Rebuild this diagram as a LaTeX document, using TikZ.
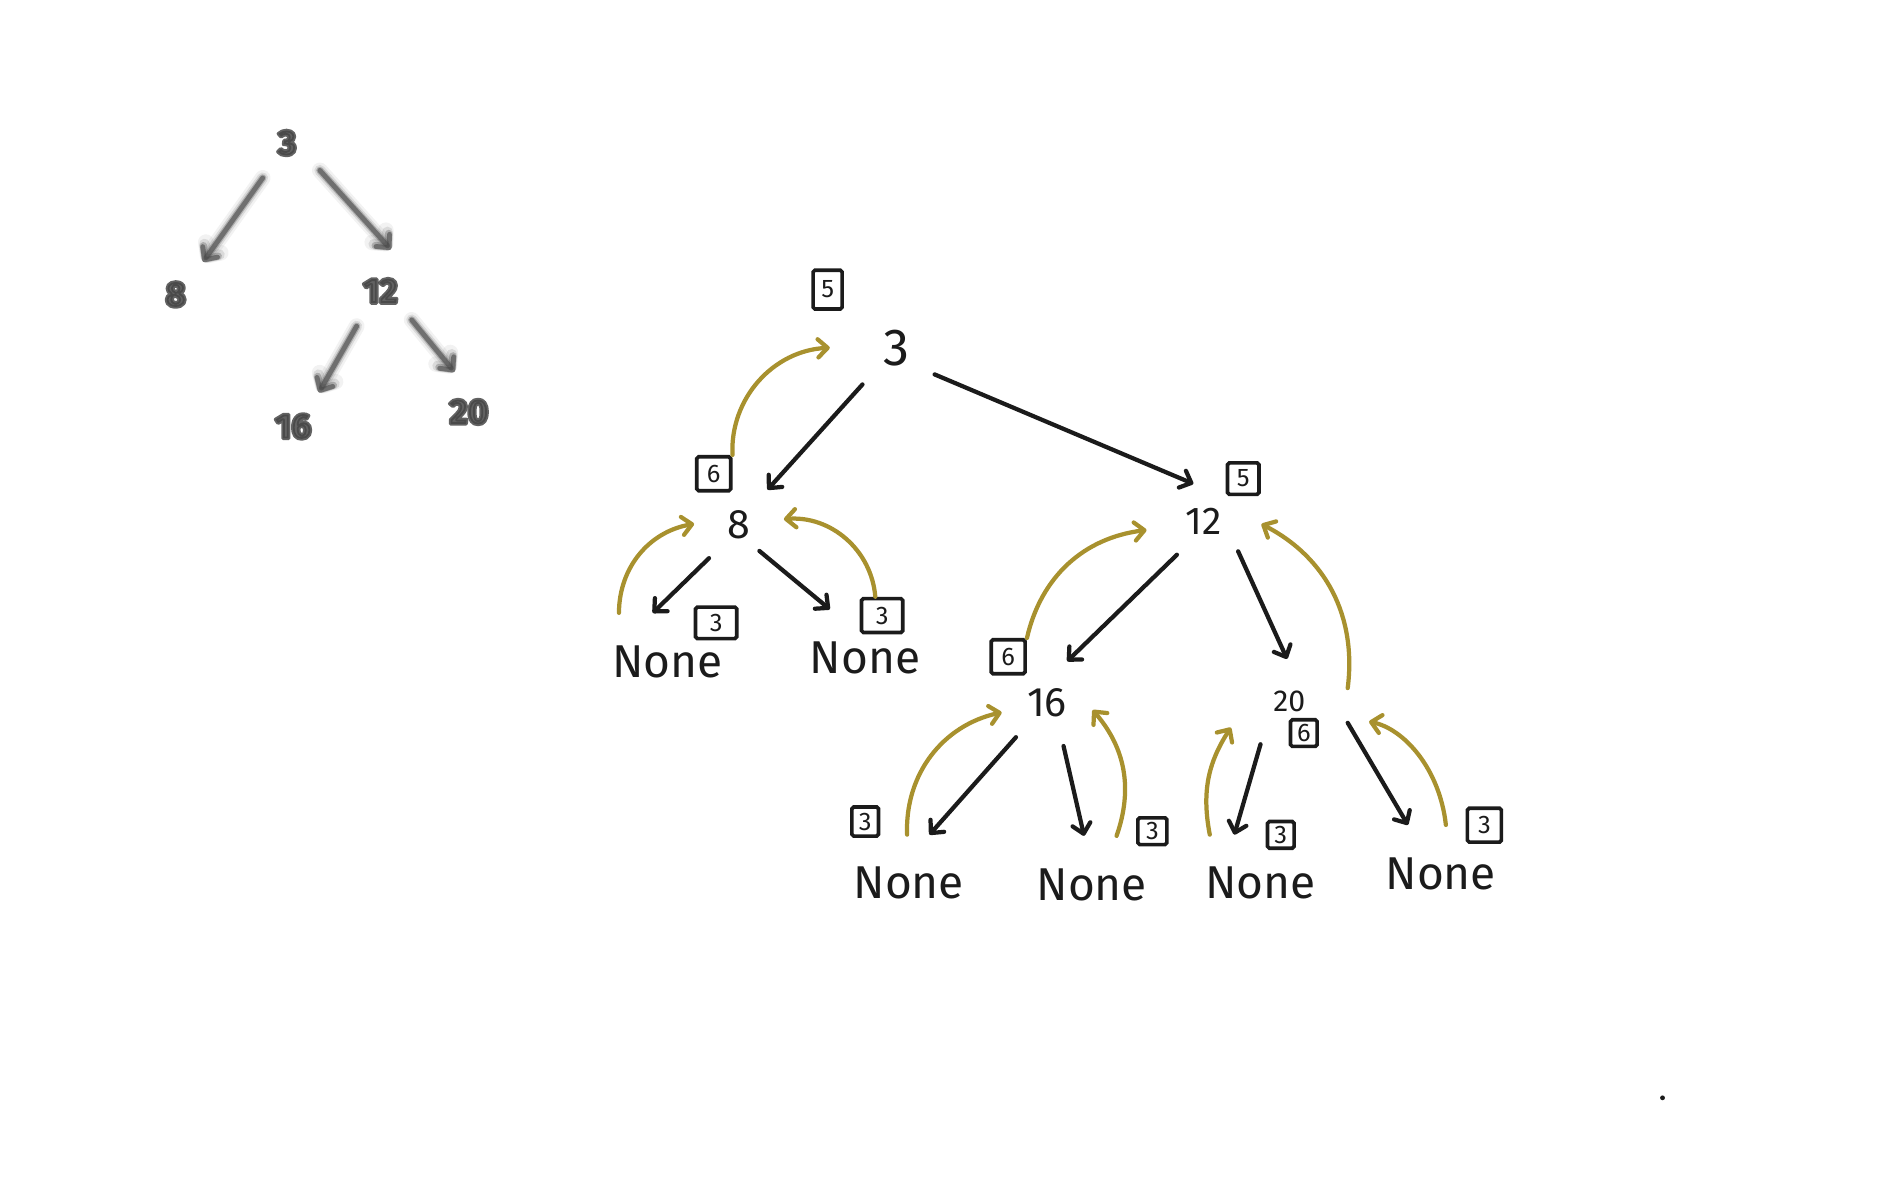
\documentclass[tikz,border=0pt]{standalone}
\usepackage{fontspec}
\setmainfont{Fira Sans}
\usetikzlibrary{arrows.meta,shapes.geometric}
\definecolor{ink}{RGB}{27,27,27}
\definecolor{gold}{RGB}{168,145,46}
\definecolor{haze}{RGB}{70,70,70}
\begin{document}
\begin{tikzpicture}[x=1pt,y=1pt,
	>={Straight Barb[length=8pt,width=15pt,round]},
	val/.style={circle,inner sep=0pt,minimum size=74pt,text=ink,font=\fontsize{34}{36}\selectfont},
	none/.style={rectangle,inner sep=0pt,minimum width=110pt,minimum height=80pt,text=ink,font=\fontsize{38}{40}\selectfont},
	hbox/.style={draw=ink,line width=3pt,rounded corners=1.5pt,inner sep=0pt,minimum width=26pt,minimum height=26pt,text=ink,font=\fontsize{21}{22}\selectfont},
	tree/.style={->,color=ink,line width=3.5pt,line cap=round},
	back/.style={->,color=gold,line width=3.5pt,line cap=round},
	fuzzy/.style={circle,inner sep=0pt,minimum size=70pt,text=haze,text opacity=.85,font=\bfseries\fontsize{29}{31}\selectfont}]

	\useasboundingbox (0,0) rectangle (1568,990);

	\foreach \nm/\x/\y/\txt in {m3/237/872/3, m8/145/747/8, m12/314/750/12, m16/242/638/16, m20/387/650/20}
		\node[fuzzy] (\nm) at (\x,\y) {\special{pdf:literal direct 2 Tr 3 w 1 j}\txt\special{pdf:literal direct 0 Tr}};
	\foreach \w/\o in {13/.07,9/.14,6/.3,4/.6}
		\path[->,color=haze,line width=\w pt,opacity=\o,line cap=round]
		(m3.-125) edge (m8.50)
		(m3.-40) edge (m12.76)
		(m12.-124) edge (m16.53)
		(m12.-43) edge (m20.110);

	\node[val,ellipse,minimum width=110pt,minimum height=70pt,font=\fontsize{43}{45}\selectfont] (n3) at (740,703) {3};
	\node[val] (n8) at (610,557) {8};
	\node[val,ellipse,minimum width=96pt,minimum height=62pt,font=\fontsize{32}{34}\selectfont] (n12) at (993,560) {12};
	\node[val,minimum size=76pt] (n16) at (864,410) {16};
	\node[val,rectangle,minimum width=96pt,minimum height=70pt,font=\fontsize{25}{27}\selectfont] (n20) at (1064,411) {20};

	\node[none] (nA) at (551,444) {None};
	\node[none] (nB) at (714,447) {None};
	\node[none] (nC) at (750,261) {None};
	\node[none] (nD) at (901,260) {None};
	\node[none] (nE) at (1040,261) {None};
	\node[none] (nF) at (1189,269) {None};

	\node[hbox,minimum width=24pt,minimum height=32pt] (b3) at (683,751) {5};
	\node[hbox,minimum size=28pt] (b8) at (589,599) {6};
	\node[hbox] (b12) at (1026,595) {5};
	\node[hbox,minimum width=34pt] (bA) at (591,476) {3};
	\node[hbox,minimum width=34pt,minimum height=28pt] (bB) at (728,482) {3};
	\node[hbox,minimum size=28pt] (b16) at (832,448) {6};
	\node[hbox,minimum size=22pt] (b20) at (1076,385) {6};
	\node[hbox,minimum width=22pt,minimum height=24pt] (bC) at (714,312) {3};
	\node[hbox,minimum width=24pt,minimum height=22pt] (bD) at (951,304) {3};
	\node[hbox,minimum size=22pt] (bE) at (1057,301) {3};
	\node[hbox,minimum size=28pt] (bF) at (1225,309) {3};

	\path[tree]
	(n3.-133) edge (n8.51)
	(n3.-33) edge[shorten <=-8pt] (n12.105)
	(n8.-132) edge (nA.107)
	(n8.-49) edge[shorten <=-10pt] (nB.126)
	(n12.-128) edge (n16.64)
	(n12.-41) edge (n20.93)
	(n16.-132) edge (nC.67)
	(n16.-69) edge (nD.99)
	(n20.-124) edge (nE.118)
	(n20.-20) edge (nF.124);

	\path[back]
	(b8.north east) edge[bend left=45] (n3.180)
	(nA.135) edge[bend left=40] (n8.179)
	(bB.110) edge[bend right=45] (n8.7)
	(b16.north east) edge[bend left=35] (n12.-171)
	(n20.13) edge[bend right=35] (n12.-3)
	(nC.92) edge[bend left=40] (n16.-168)
	(nD.63) edge[bend right=30] (n16.-9)
	(nE.136) edge[bend left=22] (n20.-156)
	(nF.84) edge[bend right=36,shorten >=18pt] (n20.-15);

	\fill[ink] (1372,84) circle (2);
\end{tikzpicture}
\end{document}
